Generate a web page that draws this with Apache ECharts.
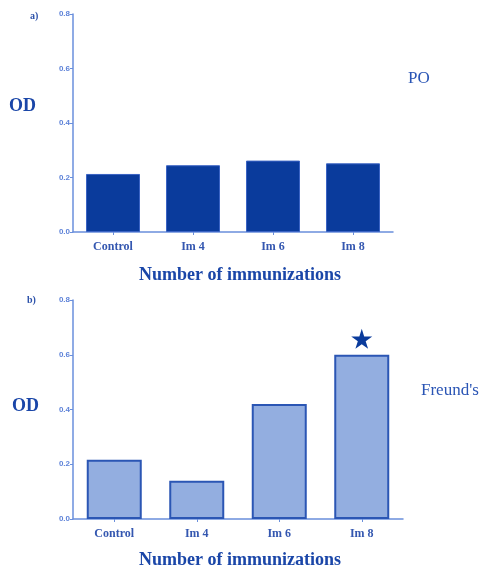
<!DOCTYPE html>
<html><head><meta charset="utf-8">
<script src="https://cdn.jsdelivr.net/npm/echarts@6/dist/echarts.min.js"></script>
<style>html,body{margin:0;padding:0;background:#fff}#c{width:486px;height:571px}</style>
</head><body><div id="c"></div>
<script>
const categories = ['Control', 'Im 4', 'Im 6', 'Im 8'];
const poValues = [0.213, 0.245, 0.262, 0.252];
const freundValues = [0.216, 0.140, 0.420, 0.600];
const yTicks = [0, 0.2, 0.4, 0.6, 0.8];
const significant = ['Im 8'];

const axisCol = '#6a8fdc';
const labelCol = '#3457b0';
const serif = '"Liberation Serif", "DejaVu Serif", serif';
const sans = '"Liberation Sans", Arial, sans-serif';

function xAxis(gi) {
  return {
    type: 'category', gridIndex: gi, data: categories,
    axisLine: {lineStyle: {color: axisCol, width: 1.5}},
    axisTick: {show: true, alignWithLabel: true, length: 3, lineStyle: {color: axisCol}},
    axisLabel: {color: labelCol, fontFamily: serif, fontWeight: 'bold', fontSize: 12, margin: 9}
  };
}
function yAxis(gi) {
  return {
    type: 'value', gridIndex: gi, min: 0, max: 0.8, interval: 0.2,
    splitLine: {show: false},
    axisLine: {show: true, lineStyle: {color: axisCol, width: 1.5}},
    axisTick: {show: true, length: 3, lineStyle: {color: axisCol}},
    axisLabel: {color: '#5d82d8', fontFamily: sans, fontWeight: 'bold', fontSize: 8, margin: 3,
      formatter: v => yTicks.includes(Math.round(v*10)/10) ? v.toFixed(1) : ''}
  };
}
const starPath = 'path://M50,0 L61,35 L98,35 L68,57 L79,91 L50,70 L21,91 L32,57 L2,35 L39,35 Z';

const chart = echarts.init(document.getElementById('c'), null, {renderer: 'canvas'});
chart.setOption({
  animation: false,
  grid: [
    {left: 73, right: 93, top: 14, height: 218},
    {left: 73, right: 83, top: 300, height: 219}
  ],
  xAxis: [xAxis(0), xAxis(1)],
  yAxis: [yAxis(0), yAxis(1)],
  series: [
    {type: 'bar', xAxisIndex: 0, yAxisIndex: 0, data: poValues, barWidth: 54,
     itemStyle: {color: '#0a3b9c', borderColor: '#3a63c4', borderWidth: 1}},
    {type: 'bar', xAxisIndex: 1, yAxisIndex: 1, data: freundValues, barWidth: 55,
     itemStyle: {color: '#93aee0', borderColor: '#2b56b4', borderWidth: 2},
     markPoint: {
       symbol: starPath, symbolSize: [21, 20], symbolOffset: [0, -16],
       itemStyle: {color: '#0a3b9c'}, label: {show: false},
       data: significant.map(c => ({coord: [c, freundValues[categories.indexOf(c)]]}))
     }}
  ],
  graphic: [
    {type: 'text', left: 30, top: 11, style: {text: 'a)', font: 'bold 10px ' + serif, fill: '#2d52aa'}},
    {type: 'text', left: 27, top: 295, style: {text: 'b)', font: 'bold 10px ' + serif, fill: '#2d52aa'}},
    {type: 'text', left: 9, top: 97, style: {text: 'OD', font: 'bold 18px ' + serif, fill: '#1a46a8'}},
    {type: 'text', left: 12, top: 397, style: {text: 'OD', font: 'bold 18px ' + serif, fill: '#1a46a8'}},
    {type: 'text', left: 408, top: 70, style: {text: 'PO', font: '17px ' + serif, fill: '#2a55b5'}},
    {type: 'text', left: 421, top: 382, style: {text: "Freund's", font: '17px ' + serif, fill: '#2a55b5'}},
    {type: 'text', left: 139, top: 266, style: {text: 'Number of immunizations', font: 'bold 18px ' + serif, fill: '#1a46a8'}},
    {type: 'text', left: 139, top: 551, style: {text: 'Number of immunizations', font: 'bold 18px ' + serif, fill: '#1a46a8'}}
  ]
});
</script></body></html>
